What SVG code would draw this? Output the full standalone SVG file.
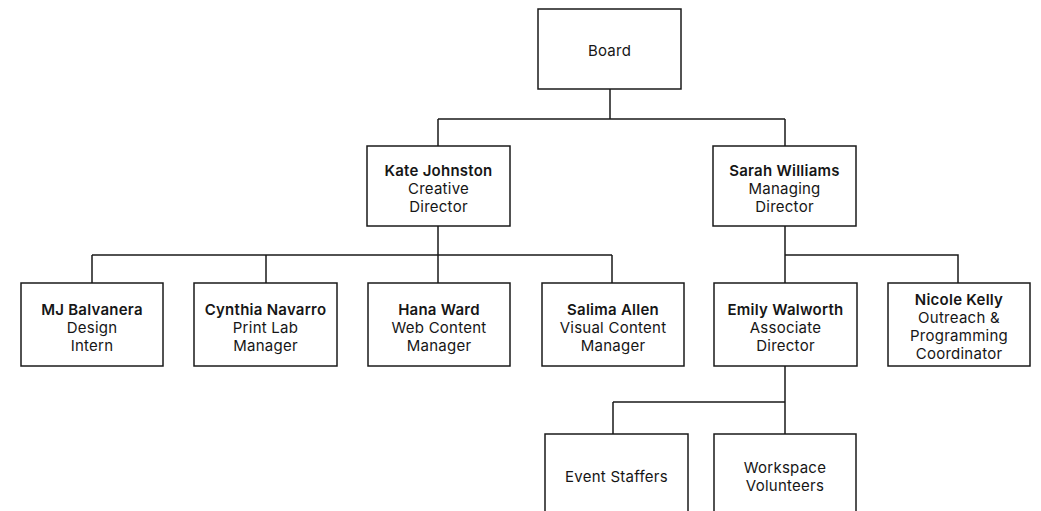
<svg xmlns="http://www.w3.org/2000/svg" width="1041" height="511" viewBox="0 0 1041 511">
<style>
.box{fill:#fff;stroke:#1a1a1a;stroke-width:1.5}
.ln{fill:none;stroke:#1a1a1a;stroke-width:1.5}
text{font-family:Inter,"Liberation Sans",sans-serif;font-size:15px;letter-spacing:0.25px;fill:#161616;text-anchor:middle}
.b{font-weight:600}
</style>
<rect width="1041" height="511" fill="#fff"/>
<g id="connectors">
<path class="ln" d="M610 89V119M438 119H785M438 119V146M785 119V146"/>
<path class="ln" d="M438 226V283M92 255H612M92 255V283M266 255V283M612 255V283"/>
<path class="ln" d="M785 226V283M785 255H958V283"/>
<path class="ln" d="M785 366V434M613 402H785M613 402V434"/>
</g>
<g id="board"><rect class="box" x="538" y="9" width="143" height="80"/><text x="609.5" y="56">Board</text></g>
<g id="kate"><rect class="box" x="367" y="146" width="143" height="80"/><text x="438.5" y="176" class="b">Kate Johnston</text><text x="438.5" y="194">Creative</text><text x="438.5" y="212">Director</text></g>
<g id="sarah"><rect class="box" x="713" y="146" width="143" height="80"/><text x="784.5" y="176" class="b">Sarah Williams</text><text x="784.5" y="194">Managing</text><text x="784.5" y="212">Director</text></g>
<g id="mj"><rect class="box" x="21" y="283" width="142" height="83"/><text x="92" y="315" class="b">MJ Balvanera</text><text x="92" y="333">Design</text><text x="92" y="351">Intern</text></g>
<g id="cynthia"><rect class="box" x="194" y="283" width="143" height="83"/><text x="265.5" y="315" class="b">Cynthia Navarro</text><text x="265.5" y="333">Print Lab</text><text x="265.5" y="351">Manager</text></g>
<g id="hana"><rect class="box" x="368" y="283" width="142" height="83"/><text x="439" y="315" class="b">Hana Ward</text><text x="439" y="333">Web Content</text><text x="439" y="351">Manager</text></g>
<g id="salima"><rect class="box" x="542" y="283" width="142" height="83"/><text x="613" y="315" class="b">Salima Allen</text><text x="613" y="333">Visual Content</text><text x="613" y="351">Manager</text></g>
<g id="emily"><rect class="box" x="714" y="283" width="143" height="83"/><text x="785.5" y="315" class="b">Emily Walworth</text><text x="785.5" y="333">Associate</text><text x="785.5" y="351">Director</text></g>
<g id="nicole"><rect class="box" x="888" y="283" width="142" height="83"/><text x="959" y="305" class="b">Nicole Kelly</text><text x="959" y="323">Outreach &amp;</text><text x="959" y="341">Programming</text><text x="959" y="359">Coordinator</text></g>
<g id="event"><rect class="box" x="545" y="434" width="143" height="83"/><text x="616.5" y="482">Event Staffers</text></g>
<g id="workspace"><rect class="box" x="714" y="434" width="142" height="83"/><text x="785" y="473">Workspace</text><text x="785" y="491">Volunteers</text></g>
</svg>
